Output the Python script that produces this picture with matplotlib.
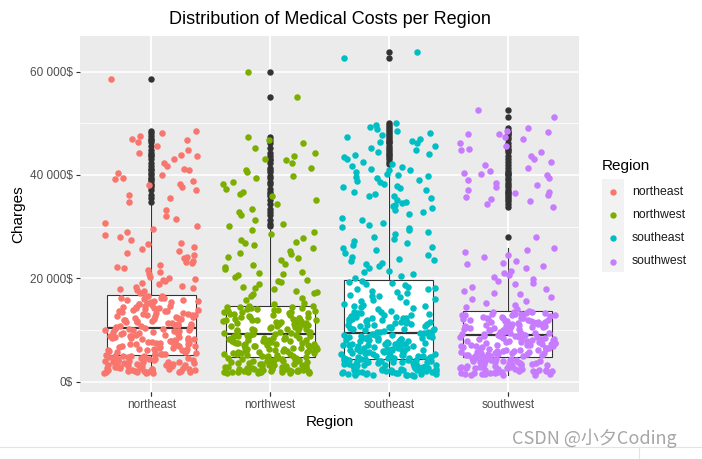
import matplotlib
matplotlib.use("Agg")
import matplotlib.pyplot as plt
from matplotlib.lines import Line2D
from matplotlib.patches import Rectangle
import numpy as np

plt.rcParams['font.family'] = ['Liberation Sans', 'Noto Sans CJK SC', 'DejaVu Sans']

regions = ["northeast", "northwest", "southeast", "southwest"]
colors = ["#F8766D", "#7CAE00", "#00BFC4", "#C77CFF"]
title = "Distribution of Medical Costs per Region"
y_ticks = [0, 20, 40, 60]          # thousands of $
y_minor = [10, 30, 50]

# charges per region, in thousands of $
northeast = [1.69, 2.14, 3.87, 4.52, 2.75, 1.83, 3.21, 4.97, 2.46, 3.55, 4.11, 1.98, 2.89, 5.05, 3.02, 4.38, 2.22, 1.72, 3.66, 4.79, 2.58, 3.94, 4.21, 2.03, 3.38, 5.16, 2.67, 1.91, 4.65, 3.11, 2.37, 4.03, 3.79, 1.77, 2.95, 4.46, 3.48, 2.19, 5.11, 2.81, 4.27, 3.15, 1.86, 3.71, 4.88, 2.52, 2.07, 3.59, 4.14, 2.71, 1.95, 3.29, 4.58, 2.43, 3.83, 4.92, 2.31, 1.74, 3.44, 4.35, 2.98, 2.11, 3.97, 4.71, 2.62,
             5.35, 6.12, 7.48, 8.91, 9.67, 5.83, 6.74, 8.22, 9.15, 10.08, 5.56, 7.03, 7.89, 8.64, 9.92, 6.31, 5.98, 7.66, 8.37, 9.41, 10.21, 6.05, 6.89, 7.27, 8.05, 9.03, 5.47, 6.58, 7.81, 8.76, 9.58, 10.14, 5.72, 6.43, 7.14, 8.49, 9.29, 5.26, 6.96, 7.55, 8.12, 9.84, 6.22, 5.64, 7.39, 8.58, 9.71, 10.27, 6.67, 7.95, 8.31, 9.09, 5.91, 6.38, 7.21, 8.83, 9.47, 5.41, 6.81, 7.72, 8.69, 9.96, 6.17, 7.33, 8.44,
             10.45, 11.23, 12.67, 13.89, 14.52, 15.78, 16.41, 10.91, 11.84, 12.15, 13.36, 14.07, 15.23, 16.62, 10.62, 11.47, 12.93, 13.58, 14.86, 15.41, 16.09, 11.05, 12.38, 13.12, 14.29, 15.95, 10.78, 11.66, 12.51, 13.74, 14.63, 15.12, 16.28, 10.53, 11.96, 12.82, 13.27, 14.41, 15.59, 10.87, 11.31, 12.24, 13.95, 14.18, 15.87, 16.53, 11.58, 12.74, 13.48, 14.95, 15.33, 10.69, 11.12, 12.06, 13.03, 14.71, 16.15, 10.38, 11.77, 12.45, 13.64, 14.34, 15.66, 11.39, 12.89,
             17.2, 18.1, 19.4, 20.3, 21.7, 22.6, 23.9, 24.8, 25.3, 26.7, 27.4, 28.9, 17.8, 18.9, 19.9, 20.8, 22.1, 23.4, 24.2, 26.1, 27.9, 29.6, 30.8, 32.1, 17.5, 18.4, 19.1, 21.2, 22.9, 25.7, 28.3, 31.4, 33.2, 20.1, 23.1, 17.9, 19.6, 21.9, 24.5, 26.9, 18.6, 30.2,
             34.8, 35.6, 36.2, 37.1, 37.7, 38.3, 38.9, 39.5, 39.9, 40.4, 41.1, 41.8, 42.3, 43.0, 43.6, 44.2, 44.9, 45.6, 46.3, 47.0, 47.5, 48.2, 48.5, 38.0, 39.2, 40.9, 43.9, 46.8, 58.6]
northwest = [1.7, 2.3, 3.6, 4.4, 2.0, 1.8, 3.1, 4.7, 2.6, 3.9, 2.1, 1.9, 4.2, 3.3, 2.8, 1.7, 2.4, 3.7, 4.6, 2.2, 1.8, 3.0, 4.0, 2.5, 2.0, 3.4, 4.3, 1.9, 2.7, 3.8, 4.8, 2.1, 1.7, 3.2, 4.5, 2.3, 2.9, 3.5, 1.8, 4.1, 2.6, 2.0, 3.6, 4.7, 2.2, 1.9, 3.0, 4.4, 2.4, 3.3, 1.7, 2.8, 3.9, 4.6, 2.1, 2.5, 3.1, 4.2, 1.8, 2.7, 3.7, 2.0, 4.0, 2.3, 3.4, 1.9,
             5.0, 5.6, 6.3, 7.1, 7.8, 8.5, 9.1, 5.3, 6.0, 6.8, 7.4, 8.2, 8.9, 5.8, 6.5, 7.2, 8.0, 8.7, 5.1, 5.9, 6.6, 7.5, 8.3, 9.0, 5.4, 6.1, 6.9, 7.7, 8.4, 5.7, 6.4, 7.0, 7.9, 8.6, 5.2, 6.2, 6.7, 7.3, 8.1, 8.8, 5.5, 6.0, 7.6, 8.9, 4.9, 5.8, 6.4, 7.2, 8.3, 9.2, 5.3, 6.6, 7.0, 7.8, 8.5, 5.0, 6.2, 6.9, 7.4, 8.0, 8.7, 5.6, 6.3, 7.7, 8.4, 9.1,
             9.4, 10.1, 10.8, 11.5, 12.3, 13.0, 13.8, 14.5, 9.7, 10.4, 11.2, 11.9, 12.7, 13.4, 14.2, 9.5, 10.2, 11.0, 11.7, 12.5, 13.2, 14.0, 14.6, 9.9, 10.6, 11.4, 12.1, 12.9, 13.6, 14.4, 9.3, 10.3, 11.1, 11.8, 12.6, 13.3, 14.1, 9.8, 10.7, 11.3, 12.0, 12.8, 13.5, 14.3, 9.6, 10.5, 11.6, 12.2, 13.1, 13.9, 10.0, 10.9, 11.5, 12.4, 13.7, 14.7, 9.4, 10.2, 11.9, 12.6, 13.2, 14.5, 9.9, 11.1, 12.0, 13.4,
             15.3, 16.2, 17.1, 18.4, 19.2, 20.6, 21.3, 22.8, 23.5, 24.7, 25.9, 26.4, 27.8, 28.6, 29.3, 15.8, 16.9, 18.0, 19.7, 21.0, 22.2, 23.9, 25.3, 27.1, 28.9, 16.5, 17.6, 18.8, 20.2, 21.8, 24.1, 26.8, 15.1, 17.3, 19.4, 22.5, 24.9, 27.5, 18.2, 20.9,
             30.1, 30.6, 31.3, 32.2, 32.8, 33.5, 34.3, 35.1, 36.0, 36.7, 37.2, 38.3, 38.7, 39.4, 39.8, 40.5, 41.3, 42.4, 42.9, 43.6, 44.2, 45.3, 46.1, 46.7, 47.4, 36.3, 40.9, 43.0, 55.1, 60.0]
southeast = [1.2, 1.5, 1.9, 2.3, 2.7, 3.1, 3.5, 3.9, 4.3, 1.3, 1.7, 2.1, 2.5, 2.9, 3.3, 3.7, 4.1, 1.4, 1.8, 2.2, 2.6, 3.0, 3.4, 3.8, 4.2, 1.1, 1.6, 2.0, 2.4, 2.8, 3.2, 3.6, 4.0, 4.4, 1.3, 1.9, 2.5, 3.1, 3.7, 4.3, 1.2, 1.7, 2.2, 2.7, 3.2, 3.8, 4.4, 1.5, 2.0, 2.6, 3.4, 3.9, 1.4, 2.3, 2.9, 3.5, 4.1, 1.8, 2.1, 2.8, 3.3, 4.0, 1.6, 2.4, 3.0, 3.6, 4.2, 1.2, 1.9, 2.6, 3.1, 3.8, 1.5, 2.2, 4.4,
             4.6, 5.1, 5.7, 6.2, 6.8, 7.3, 7.9, 8.4, 9.0, 4.8, 5.3, 5.9, 6.4, 7.0, 7.5, 8.1, 8.6, 9.2, 4.5, 5.0, 5.5, 6.1, 6.6, 7.2, 7.7, 8.3, 8.8, 9.3, 4.7, 5.2, 5.8, 6.3, 6.9, 7.4, 8.0, 8.5, 9.1, 4.9, 5.4, 6.0, 6.5, 7.1, 7.6, 8.2, 8.7, 4.6, 5.6, 6.7, 7.8, 8.9, 5.0, 6.1, 7.2, 8.3, 9.4, 4.8, 5.9, 7.0, 8.1, 9.2, 5.3, 6.4, 7.5, 8.6, 4.5, 5.7, 6.8, 7.9, 9.0, 5.1, 6.2, 7.3, 8.4, 5.5, 6.6,
             9.6, 10.2, 10.9, 11.6, 12.3, 13.0, 13.4, 9.9, 10.5, 11.2, 11.9, 12.7, 13.1, 9.5, 10.0, 10.7, 11.4, 12.1, 12.9, 13.6, 9.8, 10.4, 11.1, 11.8, 12.5, 13.2, 10.1, 10.8, 11.5, 12.2, 12.8, 9.7, 10.6, 11.7, 12.6, 13.3, 11.0, 12.4, 10.3, 11.3, 9.6, 10.9, 12.0, 13.5, 11.6, 10.2, 12.3, 14.0, 14.9,
             15.7, 16.5, 17.3, 18.2, 19.1, 14.4, 15.1, 15.9, 16.7, 17.5, 18.4, 19.5, 14.7, 15.5, 16.3, 17.1, 18.0, 18.9, 14.2, 16.6, 17.9, 19.2, 14.6, 15.8, 18.7,
             20.1, 20.8, 21.5, 22.3, 23.0, 23.8, 24.6, 25.4, 26.1, 26.9, 27.7, 28.5, 29.3, 30.0, 30.8, 31.6, 32.4, 33.2, 34.0, 34.8, 35.5, 36.3, 37.1, 37.9, 38.6, 39.4, 40.2, 41.0, 41.8, 20.5, 21.9, 23.4, 24.9, 26.5, 28.0, 29.7, 31.2, 32.9, 34.5, 35.9, 37.5, 39.0, 40.6, 41.5, 22.7, 25.8, 28.9, 33.7, 36.8, 38.2, 39.8, 40.9, 21.2, 24.2, 27.3, 30.4, 35.2, 37.7, 40.0, 41.2, 38.9, 39.6, 36.0, 34.2, 23.6,
             42.2, 42.6, 43.1, 43.5, 43.9, 44.4, 44.8, 45.3, 45.7, 46.2, 46.6, 47.0, 47.3, 47.8, 48.2, 48.5, 48.9, 49.3, 49.6, 50.0, 44.0, 46.4, 62.6, 63.8]
southwest = [1.3, 1.8, 2.3, 2.9, 3.4, 4.0, 4.6, 1.6, 2.1, 2.6, 3.2, 3.7, 4.3, 1.4, 1.9, 2.5, 3.0, 3.6, 4.1, 4.7, 1.7, 2.2, 2.8, 3.3, 3.9, 4.4, 1.5, 2.0, 2.7, 3.1, 3.8, 4.5, 1.2, 2.4, 3.5, 4.2, 1.8, 2.6, 3.4, 4.8, 1.4, 2.1, 2.9, 3.7, 4.3, 1.6, 2.3, 3.0, 3.9, 4.6, 1.3, 2.0, 2.8, 3.6, 4.1, 1.9, 2.5, 3.2, 4.0, 1.5, 2.2, 3.3, 4.4, 1.7, 2.7, 3.5,
             4.9, 5.4, 5.9, 6.4, 6.9, 7.4, 7.9, 8.4, 8.9, 5.1, 5.6, 6.1, 6.6, 7.1, 7.6, 8.1, 8.6, 9.1, 5.0, 5.5, 6.0, 6.5, 7.0, 7.5, 8.0, 8.5, 9.0, 5.2, 5.7, 6.2, 6.7, 7.2, 7.7, 8.2, 8.7, 5.3, 5.8, 6.3, 6.8, 7.3, 7.8, 8.3, 8.8, 4.9, 5.6, 6.4, 7.1, 7.9, 8.6, 5.2, 6.0, 6.9, 7.6, 8.4, 5.4, 6.2, 7.0, 7.8, 8.9, 5.0, 5.8, 6.6, 7.4, 8.2, 5.5, 6.7,
             9.2, 9.6, 10.0, 10.4, 10.8, 11.2, 11.6, 12.0, 12.4, 12.8, 13.2, 13.6, 9.3, 9.7, 10.1, 10.5, 10.9, 11.3, 11.7, 12.1, 12.5, 12.9, 13.3, 9.4, 9.8, 10.2, 10.6, 11.0, 11.4, 11.8, 12.2, 12.6, 13.0, 13.4, 9.5, 9.9, 10.3, 10.7, 11.1, 11.5, 11.9, 12.3, 12.7, 13.1, 13.5, 9.2, 10.0, 10.8, 11.6, 12.4, 13.2, 9.6, 10.4, 11.2, 12.0, 12.8, 9.9, 10.7, 11.5, 12.3, 13.1, 9.4, 10.5, 11.7, 12.9, 13.5,
             14.1, 14.9, 15.6, 16.4, 17.2, 18.0, 18.8, 19.5, 20.3, 21.1, 21.9, 22.7, 23.4, 24.2, 25.0, 25.8, 14.5, 15.2, 16.9, 18.4, 19.9, 21.5, 23.0, 24.6, 25.5, 17.6, 20.7, 15.9, 22.3, 19.1,
             28.0, 33.8, 34.4, 34.9, 35.3, 35.8, 36.2, 36.7, 37.1, 37.6, 38.0, 38.5, 39.0, 39.4, 39.9, 40.3, 40.8, 41.3, 41.9, 42.5, 43.0, 43.7, 44.4, 45.0, 45.7, 46.2, 46.9, 47.4, 48.0, 48.6, 49.1, 47.9, 36.5, 40.1, 44.8, 48.3, 51.2, 52.6]

# box statistics (thousands of $)
box_q1 = [5.2, 4.84, 4.45, 4.84]
box_med = [10.3, 9.2, 9.4, 9.1]
box_q3 = [16.7, 14.7, 19.6, 13.6]
box_lo = [1.7, 1.6, 1.1, 1.2]
box_hi = [34.2, 29.3, 41.8, 25.8]

series = [northeast, northwest, southeast, southwest]

W, H = 702, 459
fig = plt.figure(figsize=(W / 100, H / 100), dpi=100)
fig.patch.set_facecolor("white")
ax = fig.add_axes([80 / W, 1 - 392 / H, 499 / W, 356 / H])
ax.set_facecolor("#EBEBEB")
for s in ax.spines.values():
    s.set_visible(False)

ax.set_xlim(0.4, 4.6)
ax.set_ylim(-2.011, 66.902)
ax.set_yticks(y_ticks)
ax.set_yticks(y_minor, minor=True)
ax.set_xticks(range(1, 5))
ax.set_xticklabels(regions)
ax.set_yticklabels([f"{int(round(v * 1000)):,}".replace(",", " ") + "$" for v in y_ticks])
ax.grid(True, which="major", color="white", lw=1.1)
ax.yaxis.grid(True, which="minor", color="white", lw=0.55)
ax.set_axisbelow(True)
ax.tick_params(axis="both", which="major", length=3, width=0.8, color="#333333",
               labelsize=8.5, labelcolor="#4D4D4D", pad=2)
ax.tick_params(axis="y", which="minor", length=0)

stats = []
for i, data in enumerate(series):
    stats.append(dict(med=box_med[i], q1=box_q1[i], q3=box_q3[i],
                      whislo=box_lo[i], whishi=box_hi[i],
                      fliers=[v for v in data if v > box_hi[i]], label=regions[i]))
ax.bxp(stats, positions=[1, 2, 3, 4], widths=0.75, patch_artist=True, showcaps=False,
       boxprops=dict(facecolor="white", edgecolor="#333333", lw=0.8),
       medianprops=dict(color="#333333", lw=1.6),
       whiskerprops=dict(color="#333333", lw=0.8),
       flierprops=dict(marker="o", markerfacecolor="#333333", markeredgecolor="none",
                       markersize=4.6),
       zorder=2)

# deterministic horizontal jitter (position only, width +-0.4 like geom_jitter)
for i, data in enumerate(series):
    n = len(data)
    k = np.arange(n, dtype=float)
    u = (k * 0.7548776662 + k * k * 0.5698402910 + 0.37 * i) % 1.0
    off = u * 0.8 - 0.4
    ax.scatter(np.full(n, i + 1) + off, data, s=22, color=colors[i], linewidths=0, zorder=3)

fig.text(329.5 / W, 1 - 20 / H, title, ha="center", va="center", fontsize=13, color="black")
fig.text(329.5 / W, 1 - 422 / H, "Region", ha="center", va="center", fontsize=11, color="black")
fig.text(18 / W, 1 - 214 / H, "Charges", ha="center", va="center", fontsize=11,
         rotation=90, color="black")

# legend
fig.text(602 / W, 1 - 166 / H, "Region", ha="left", va="center", fontsize=11, color="black")
fig.add_artist(Rectangle((602 / W, 1 - 272 / H), 22 / W, 93 / H, transform=fig.transFigure,
                         facecolor="#F2F2F2", edgecolor="none"))
key_y = [191.7, 215, 238.3, 261.5]
for i, r in enumerate(regions):
    fig.add_artist(Line2D([613 / W], [1 - key_y[i] / H], marker="o", markersize=4.6,
                          markerfacecolor=colors[i], markeredgecolor="none", linestyle="none",
                          transform=fig.transFigure))
    fig.text(632 / W, 1 - key_y[i] / H, r, ha="left", va="center", fontsize=8.8, color="#1A1A1A")

# page decorations of the screenshot
fig.add_artist(Line2D([0, 1], [1 - 446.5 / H, 1 - 446.5 / H], color="#E3E3E3", lw=0.8,
                      transform=fig.transFigure))
fig.add_artist(Line2D([639 / W, 639 / W], [0, 1 - 447 / H], color="#E3E3E3", lw=0.8,
                      transform=fig.transFigure))
fig.text(512 / W, 1 - 438 / H, "CSDN @小夕Coding", ha="left", va="center", fontsize=13,
         color="#A6A6A6", family=["Noto Sans CJK SC", "DejaVu Sans"])

fig.savefig("out.png", dpi=100)
